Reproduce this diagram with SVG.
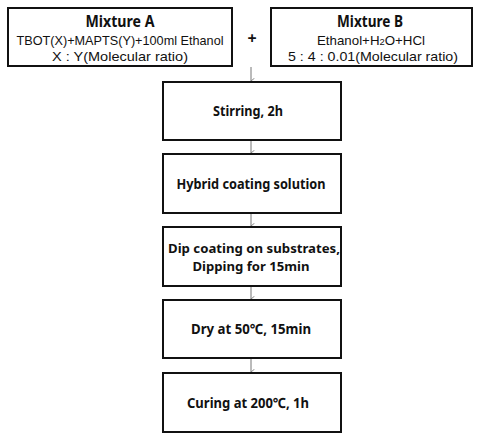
<svg xmlns="http://www.w3.org/2000/svg" width="479" height="438" viewBox="0 0 479 438">
<defs>
<style>
.box{fill:#fff;stroke:#111;stroke-width:2}
.t{font-family:"Noto Sans","DejaVu Sans",sans-serif;fill:#111;text-anchor:middle}
.h{font-size:16px;font-weight:bold}
.r{font-family:"Liberation Sans",Arial,sans-serif;font-size:13.5px}
.b{font-size:14px;font-weight:bold}
.b2{font-size:13px;font-weight:bold}
.c{stroke:#777;stroke-width:1;fill:none;marker-end:url(#ah)}
</style>
<marker id="ah" viewBox="0 0 10 10" refX="5" refY="9" markerWidth="7" markerHeight="7" orient="auto-start-reverse" markerUnits="userSpaceOnUse">
<path d="M1 4 L5 9 L9 4" fill="none" stroke="#777" stroke-width="1.2"/>
</marker>
</defs>
<rect width="479" height="438" fill="#fff"/>
<g id="connectors">
<line class="c" x1="251" y1="67" x2="251" y2="81"/>
<line class="c" x1="251" y1="141" x2="251" y2="153"/>
<line class="c" x1="251" y1="214" x2="251" y2="226"/>
<line class="c" x1="251" y1="287" x2="251" y2="299"/>
<line class="c" x1="251" y1="359" x2="251" y2="372"/>
</g>
<g id="mixtureA">
<rect class="box" x="8" y="8" width="224" height="58"/>
<text class="t h" x="120" y="27" textLength="69" lengthAdjust="spacingAndGlyphs">Mixture A</text>
<text class="t r" x="120" y="45" textLength="207" lengthAdjust="spacingAndGlyphs">TBOT(X)+MAPTS(Y)+100ml Ethanol</text>
<text class="t r" x="120" y="61" textLength="136" lengthAdjust="spacingAndGlyphs">X : Y(Molecular ratio)</text>
</g>
<g id="plus">
<text class="t h" x="252" y="44">+</text>
</g>
<g id="mixtureB">
<rect class="box" x="271" y="8" width="201" height="58"/>
<text class="t h" x="370" y="27" textLength="66" lengthAdjust="spacingAndGlyphs">Mixture B</text>
<text class="t r" x="371" y="45" textLength="108" lengthAdjust="spacingAndGlyphs">Ethanol+H<tspan font-size="9.5px">2</tspan>O+HCl</text>
<text class="t r" x="373" y="61" textLength="170" lengthAdjust="spacingAndGlyphs">5 : 4 : 0.01(Molecular ratio)</text>
</g>
<g id="stirring">
<rect class="box" x="163" y="82" width="178" height="58"/>
<text class="t b" x="248" y="116" textLength="70" lengthAdjust="spacingAndGlyphs">Stirring, 2h</text>
</g>
<g id="hybrid">
<rect class="box" x="163" y="154" width="178" height="59"/>
<text class="t b" x="251" y="189" textLength="149" lengthAdjust="spacingAndGlyphs">Hybrid coating solution</text>
</g>
<g id="dip">
<rect class="box" x="163" y="227" width="178" height="59"/>
<text class="t b2" x="254" y="252.5" textLength="172" lengthAdjust="spacingAndGlyphs">Dip coating on substrates,</text>
<text class="t b2" x="251" y="270.5" textLength="117" lengthAdjust="spacingAndGlyphs">Dipping for 15min</text>
</g>
<g id="dry">
<rect class="box" x="163" y="300" width="178" height="58"/>
<text class="t b" x="251" y="334" textLength="120" lengthAdjust="spacingAndGlyphs">Dry at 50℃, 15min</text>
</g>
<g id="curing">
<rect class="box" x="163" y="373" width="178" height="59"/>
<text class="t b" x="248" y="408" textLength="122" lengthAdjust="spacingAndGlyphs">Curing at 200℃, 1h</text>
</g>
</svg>
